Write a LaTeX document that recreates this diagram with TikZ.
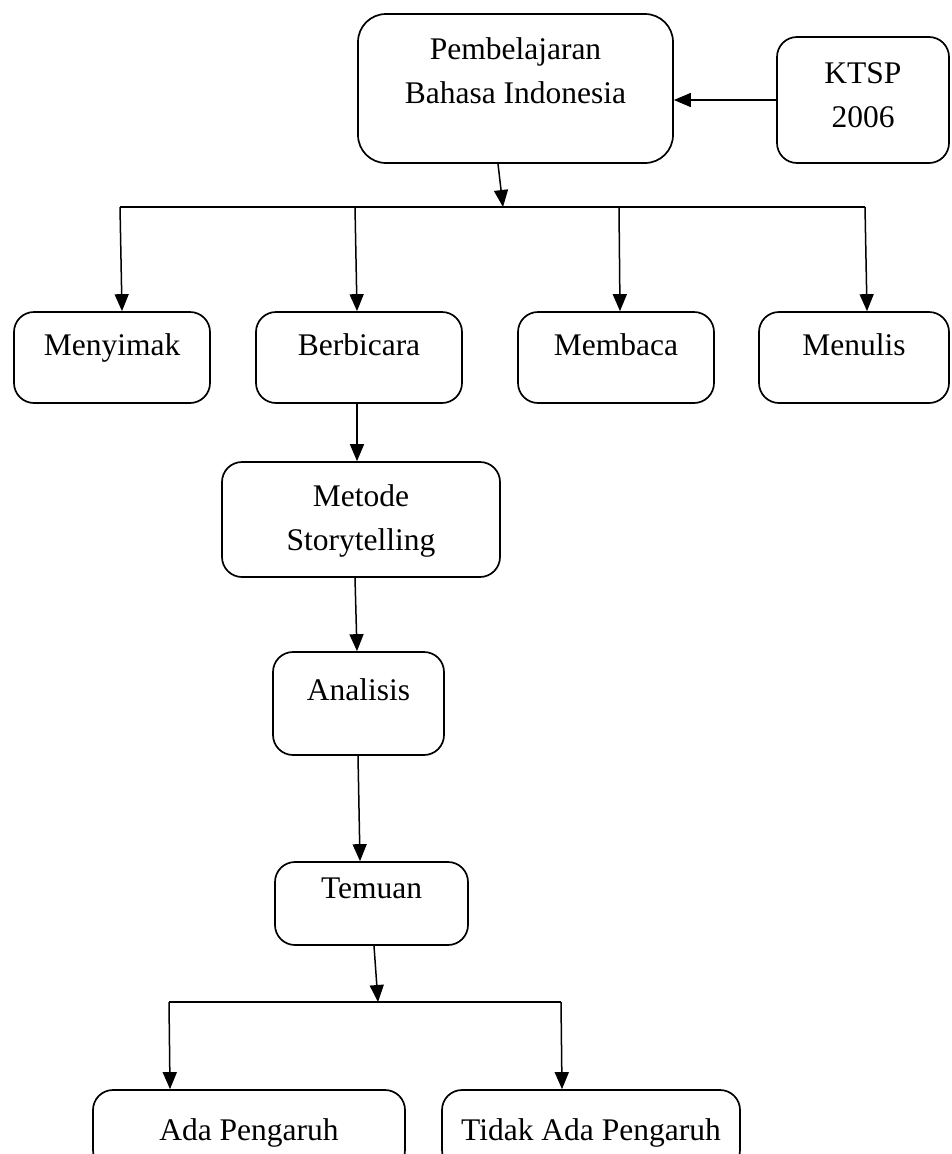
\documentclass[tikz,border=0pt]{standalone}
\usepackage{fontspec}
\setmainfont{Liberation Serif}
\usetikzlibrary{arrows.meta}
\begin{document}
\begin{tikzpicture}[x=1pt,y=-1pt,
  box/.style={draw,line width=1.7pt,rounded corners=20pt,inner sep=0pt},
  txt/.style={font=\fontsize{31.5}{44}\selectfont,align=center,inner sep=0pt,anchor=base},
  arr/.style={line width=1.5pt,-{Triangle[length=17pt,width=14pt]}},
  ln/.style={line width=1.7pt}]
\useasboundingbox (0,0) rectangle (951,1154);
\clip (0,0) rectangle (951,1154);
% boxes
\node[box,rounded corners=28pt,minimum width=315pt,minimum height=149pt] (P) at (515.5,88.5) {};
\node[box,minimum width=172pt,minimum height=126pt] (K) at (863,100) {};
\node[box,minimum width=196pt,minimum height=91pt] (M1) at (112,357.5) {};
\node[box,minimum width=206pt,minimum height=91pt] (M2) at (359,357.5) {};
\node[box,minimum width=196pt,minimum height=91pt] (M3) at (616,357.5) {};
\node[box,minimum width=190pt,minimum height=91pt] (M4) at (854,357.5) {};
\node[box,minimum width=278pt,minimum height=115pt] (MS) at (361,519.5) {};
\node[box,minimum width=171pt,minimum height=103pt] (AN) at (358.5,703.5) {};
\node[box,minimum width=193pt,minimum height=83pt] (TM) at (371.5,903.5) {};
\node[box,minimum width=312pt,minimum height=80pt] (AP) at (249,1130) {};
\node[box,minimum width=298pt,minimum height=80pt] (TP) at (591,1130) {};
% texts (anchor = baseline of last line)
\node[txt] (tP) at (515.5,103) {Pembelajaran\\Bahasa Indonesia};
\node[txt] (tK) at (863,127) {KTSP\\2006};
\node[txt] (t1) at (112,355) {Menyimak};
\node[txt] (t2) at (359,355) {Berbicara};
\node[txt] (t3) at (616,355) {Membaca};
\node[txt] (t4) at (854,355) {Menulis};
\node[txt] (tMS) at (361,550) {Metode\\Storytelling};
\node[txt] (tAN) at (358.5,700) {Analisis};
\node[txt] (tTM) at (371.5,898) {Temuan};
\node[txt] (tAP) at (249,1140) {Ada Pengaruh};
\node[txt] (tTP) at (591,1140) {Tidak Ada Pengaruh};
% bus coordinates
\coordinate (b0) at (503,207);
\coordinate (bL) at (120,207);
\coordinate (bR) at (865,207);
\coordinate (b2) at (355,207);
\coordinate (b3) at (619,207);
\coordinate (c0) at (378,1002);
\coordinate (cL) at (169,1002);
\coordinate (cR) at (561,1002);
% connectors
\draw[arr] (K.west) -- (P.east |- K.west);
\draw[arr] ([xshift=-17.5pt]P.south) -- (b0);
\draw[ln] (bL) -- (bR);
\draw[arr] (bL) -- ([xshift=10pt]M1.north);
\draw[arr] (b2) -- ([xshift=-2pt]M2.north);
\draw[arr] (b3) -- ([xshift=4pt]M3.north);
\draw[arr] (bR) -- ([xshift=13pt]M4.north);
\draw[arr] ([xshift=-2pt]M2.south) -- ([xshift=-4pt]MS.north);
\draw[arr] ([xshift=-6pt]MS.south) -- ([xshift=-1.5pt]AN.north);
\draw[arr] ([xshift=-0.5pt]AN.south) -- ([xshift=-11.5pt]TM.north);
\draw[arr] ([xshift=2.5pt]TM.south) -- (c0);
\draw[ln] (cL) -- (cR);
\draw[arr] (cL) -- ([xshift=-79pt]AP.north);
\draw[arr] (cR) -- ([xshift=-29pt]TP.north);
\end{tikzpicture}
\end{document}
